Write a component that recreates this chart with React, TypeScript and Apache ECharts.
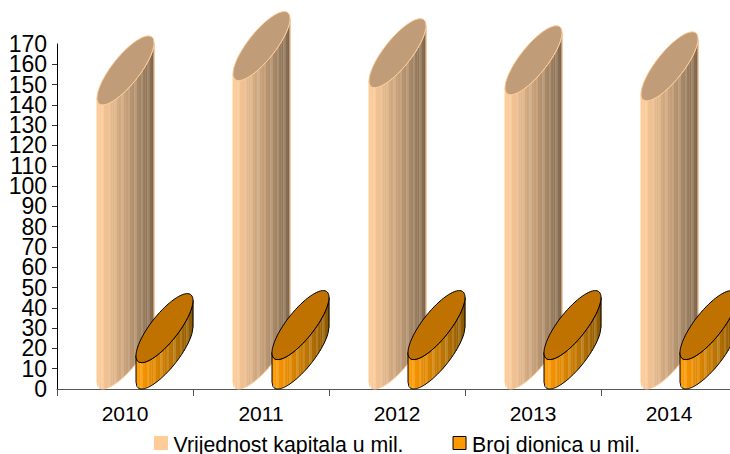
import React, { useEffect, useRef } from "react";
import * as echarts from "echarts";

const categories = ["2010", "2011", "2012", "2013", "2014"];
const capital = [140, 152, 148.5, 145, 142];
const shares = [13, 14.5, 14.5, 14.5, 14.5];
const axisEnds = [0, 170];

function shade(from: number[], to: number[], k: number, lift: number) {
  const c = from.map((v, i) => {
    const mixed = v + (to[i] - v) * k;
    return Math.round(mixed + (255 - mixed) * lift);
  });
  return `rgb(${c[0]},${c[1]},${c[2]})`;
}

function cylinder(opts: { offset: number; light: number[]; dark: number[]; top: string; stroke: string }) {
  const A = 28.5, B = 34.5, R = 0.8, N = 26;
  const Q = B * Math.sqrt(1 - R * R);
  return (params: any, api: any) => {
    const p = api.coord([api.value(0), api.value(1)]);
    const zero = api.coord([api.value(0), 0]);
    const cx = p[0] + opts.offset;
    const topY = p[1] - B;
    const baseY = zero[1] - B;
    const lower = (dx: number, cy: number) => {
      const u = Math.max(-1, Math.min(1, dx / A));
      return cy - R * B * u + Q * Math.sqrt(1 - u * u);
    };
    const children: any[] = [];
    for (let i = 0; i < N; i++) {
      const d0 = -A + (2 * A * i) / N;
      const d1 = -A + (2 * A * (i + 1)) / N;
      const k = Math.pow(i / (N - 1), 1.1);
      children.push({
        type: "polygon",
        shape: {
          points: [
            [cx + d0, lower(d0, topY)],
            [cx + d1 + 0.3, lower(d1, topY)],
            [cx + d1 + 0.3, lower(d1, baseY)],
            [cx + d0, lower(d0, baseY)],
          ],
        },
        style: { fill: shade(opts.light, opts.dark, k, i % 3 === 2 ? 0.14 : 0), stroke: null },
        silent: true,
      });
    }
    const outline: number[][] = [];
    for (let i = 0; i <= 60; i++) {
      const d = -A + (2 * A * i) / 60;
      outline.push([cx + d, lower(d, baseY)]);
    }
    for (let i = 60; i >= 0; i--) {
      const d = -A + (2 * A * i) / 60;
      outline.push([cx + d, lower(d, topY)]);
    }
    children.push({
      type: "polygon",
      shape: { points: outline },
      style: { fill: "none", stroke: opts.stroke, lineWidth: 1 },
      silent: true,
    });
    const rim: number[][] = [];
    for (let i = 0; i < 72; i++) {
      const t = (i / 72) * Math.PI * 2;
      const dx = A * Math.cos(t);
      const dy = -R * B * Math.cos(t) + Q * Math.sin(t);
      rim.push([cx + dx, topY + dy]);
    }
    children.push({
      type: "polygon",
      shape: { points: rim },
      style: { fill: opts.top, stroke: opts.stroke, lineWidth: 1 },
      silent: true,
    });
    return { type: "group", children };
  };
}

export default function App() {
  const ref = useRef<HTMLDivElement>(null);
  useEffect(() => {
    document.body.style.margin = "0";
    const chart = echarts.init(ref.current!, undefined, { renderer: "svg" });
    const font = "'Liberation Sans', Arial, sans-serif";
    const yLabel = { fontFamily: font, fontSize: 23, color: "#000", margin: 10 };
    chart.setOption({
      animation: false,
      backgroundColor: "#fff",
      grid: { left: 57, width: 680, top: 44, height: 345, containLabel: false, outerBoundsMode: "none" },
      legend: {
        left: 154,
        top: 434,
        padding: 0,
        itemWidth: 13,
        itemHeight: 13,
        itemGap: 49,
        icon: "rect",
        formatter: (name: string) => `{t|${name}}`,
        textStyle: {
          rich: { t: { fontFamily: font, fontSize: 21.3, lineHeight: 18, color: "#000", padding: [0, 0, 0, 1], verticalAlign: "top" } },
        },
        data: [
          { name: "Vrijednost kapitala u mil.", itemStyle: { color: "#FFCC99", borderColor: "#FFCC99", borderWidth: 1 } },
          { name: "Broj dionica u mil.", itemStyle: { color: "#FF9900", borderColor: "#000", borderWidth: 1 } },
        ],
      },
      xAxis: {
        type: "category",
        data: categories,
        boundaryGap: true,
        axisLine: { lineStyle: { color: "#555", width: 1 } },
        axisTick: { show: true, length: 7, lineStyle: { color: "#555" } },
        axisLabel: { fontFamily: font, fontSize: 21, color: "#000", margin: 14 },
      },
      yAxis: [
        {
          type: "value",
          min: 0,
          max: 170,
          interval: 10,
          axisLine: { show: true, lineStyle: { color: "#000", width: 1 } },
          axisTick: { show: true, length: 5, lineStyle: { color: "#333" } },
          splitLine: { show: false },
          axisLabel: { ...yLabel, showMinLabel: false, showMaxLabel: false },
        },
        {
          type: "value",
          position: "left",
          min: 0,
          max: 170,
          interval: 10,
          axisLine: { show: false },
          axisTick: { show: false },
          splitLine: { show: false },
          axisLabel: { ...yLabel, customValues: axisEnds },
        },
      ],
      series: [
        {
          type: "custom",
          name: "Vrijednost kapitala u mil.",
          clip: false,
          z: 2,
          itemStyle: { color: "#FFCC99" },
          data: categories.map((c, i) => [i, capital[i]]),
          encode: { x: 0, y: 1 },
          renderItem: cylinder({ offset: 0.5, light: [255, 204, 153], dark: [130, 105, 78], top: "#C09C78", stroke: "#FFCC99" }),
        },
        {
          type: "custom",
          name: "Broj dionica u mil.",
          clip: false,
          z: 3,
          itemStyle: { color: "#FF9900" },
          data: categories.map((c, i) => [i, shares[i]]),
          encode: { x: 0, y: 1 },
          renderItem: cylinder({ offset: 39.5, light: [255, 153, 0], dark: [140, 88, 0], top: "#C07200", stroke: "#000" }),
        },
      ],
    });
    return () => chart.dispose();
  }, []);
  return <div ref={ref} style={{ width: 730, height: 454 }} />;
}
